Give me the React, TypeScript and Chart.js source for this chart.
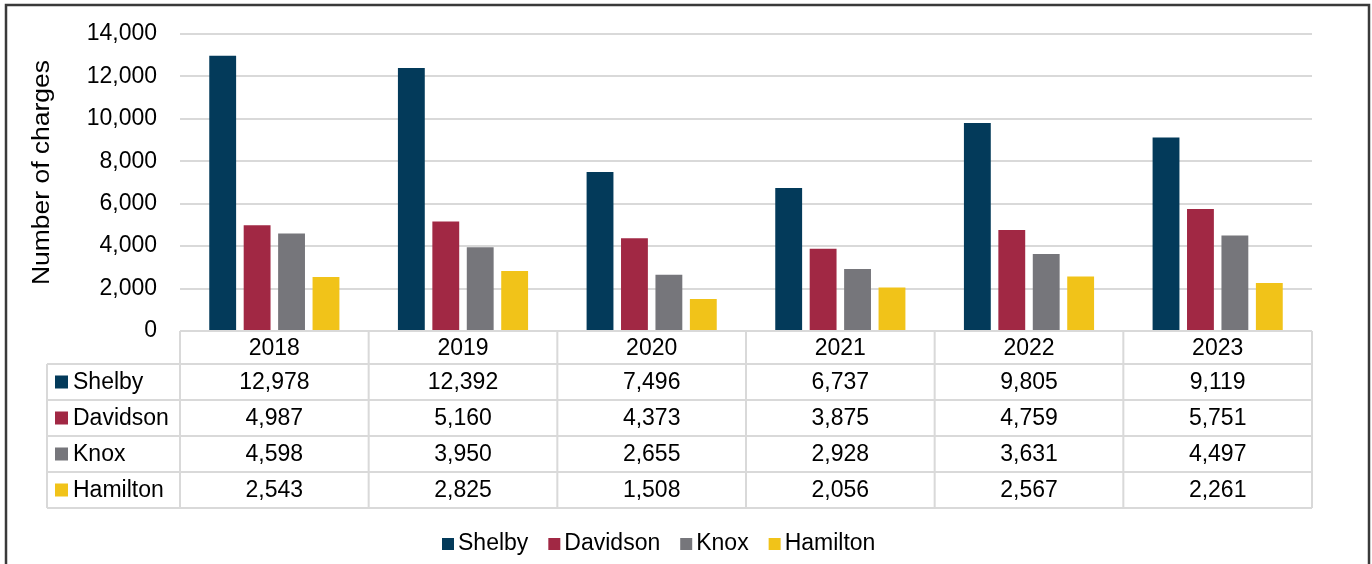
import React, { useEffect, useRef } from "react";
import { Chart, registerables } from "chart.js";

Chart.register(...registerables);

const years = ["2018", "2019", "2020", "2021", "2022", "2023"];
const seriesNames = ["Shelby", "Davidson", "Knox", "Hamilton"];
const shelby = [12978, 12392, 7496, 6737, 9805, 9119];
const davidson = [4987, 5160, 4373, 3875, 4759, 5751];
const knox = [4598, 3950, 2655, 2928, 3631, 4497];
const hamilton = [2543, 2825, 1508, 2056, 2567, 2261];
const seriesColors = ["#033A5A", "#A12844", "#76767B", "#F1C319"];
const yTicks = [0, 2000, 4000, 6000, 8000, 10000, 12000, 14000];
const yTitle = "Number of charges";

const FONT = '"Liberation Sans", Arial, sans-serif';
const fmt = (v: number) => v.toLocaleString("en-US");

const tablePlugin = {
  id: "tableAndLegend",
  afterDraw(chart: any) {
    const ctx = chart.ctx as CanvasRenderingContext2D;
    const area = chart.chartArea;
    const xs = chart.scales.x;
    const n = years.length;
    const colW = (area.right - area.left) / n;
    const headerTop = area.bottom;
    const headerH = 33;
    const rowH = 36;
    const labelLeft = 47;
    const rowsTop = headerTop + headerH;
    const tableBottom = rowsTop + rowH * seriesNames.length;
    const allSeries = [shelby, davidson, knox, hamilton];

    ctx.save();
    // frame
    ctx.strokeStyle = "#3a3a3a";
    ctx.lineWidth = 2.5;
    ctx.strokeRect(6, 5, 1363, 620);

    // table grid
    ctx.strokeStyle = "#d9d9d9";
    ctx.lineWidth = 2;
    ctx.beginPath();
    ctx.moveTo(area.left, headerTop);
    ctx.lineTo(area.right, headerTop);
    for (let r = 0; r <= seriesNames.length; r++) {
      const y = rowsTop + r * rowH;
      ctx.moveTo(labelLeft, y);
      ctx.lineTo(area.right, y);
    }
    ctx.moveTo(labelLeft, rowsTop);
    ctx.lineTo(labelLeft, tableBottom);
    for (let i = 0; i <= n; i++) {
      const x = area.left + i * colW;
      ctx.moveTo(x, headerTop);
      ctx.lineTo(x, tableBottom);
    }
    ctx.stroke();

    // table text
    ctx.fillStyle = "#000";
    ctx.font = `23px ${FONT}`;
    ctx.textBaseline = "middle";
    ctx.textAlign = "center";
    years.forEach((yr, i) => {
      const cx = xs.getPixelForValue(i);
      ctx.fillText(yr, cx, headerTop + headerH / 2 + 1);
      allSeries.forEach((s, r) => {
        ctx.fillText(fmt(s[i]), cx, rowsTop + r * rowH + rowH / 2 + 1);
      });
    });
    ctx.textAlign = "left";
    seriesNames.forEach((name, r) => {
      const cy = rowsTop + r * rowH + rowH / 2;
      ctx.fillStyle = seriesColors[r];
      ctx.fillRect(55, cy - 6.5, 13, 13);
      ctx.fillStyle = "#000";
      ctx.fillText(name, 73, cy + 1);
    });

    // legend
    let lx = 442;
    const ly = 544;
    seriesNames.forEach((name, r) => {
      ctx.fillStyle = seriesColors[r];
      ctx.fillRect(lx, ly - 6, 12, 12);
      ctx.fillStyle = "#000";
      ctx.fillText(name, lx + 16, ly);
      lx += 16 + ctx.measureText(name).width + 20;
    });

    // y axis title (stretched to match reference)
    ctx.translate(43, 172.5);
    ctx.rotate(-Math.PI / 2);
    ctx.textAlign = "center";
    const w = ctx.measureText(yTitle).width;
    ctx.scale(225 / w, 1);
    ctx.fillText(yTitle, 0, 0);
    ctx.restore();
  },
};

export default function App() {
  const ref = useRef<HTMLCanvasElement>(null);
  useEffect(() => {
    if (!ref.current) return;
    const chart = new Chart(ref.current, {
      type: "bar",
      data: {
        labels: years,
        datasets: [shelby, davidson, knox, hamilton].map((d, i) => ({
          label: seriesNames[i],
          data: d,
          backgroundColor: seriesColors[i],
          categoryPercentage: 0.73,
          barPercentage: 0.78,
        })),
      },
      options: {
        responsive: false,
        maintainAspectRatio: false,
        devicePixelRatio: 1,
        animation: false,
        layout: { padding: { left: 0, right: 60, top: 34, bottom: 233 } },
        plugins: { legend: { display: false }, tooltip: { enabled: false } },
        scales: {
          x: { display: false },
          y: {
            min: yTicks[0],
            max: yTicks[yTicks.length - 1],
            afterFit: (s: any) => {
              s.width = 180;
            },
            afterBuildTicks: (s: any) => {
              s.ticks = yTicks.map((v) => ({ value: v }));
            },
            border: { display: false },
            grid: { color: "#d9d9d9", lineWidth: 2, drawTicks: false },
            ticks: {
              padding: 23,
              color: "#000",
              font: { family: FONT, size: 23, lineHeight: 0.8 },
              callback: (v: any) => fmt(Number(v)),
            },
          },
        },
      },
      plugins: [tablePlugin],
    });
    return () => chart.destroy();
  }, []);
  return (
    <div style={{ position: "fixed", left: 0, top: 0, width: 1372, height: 564, background: "#fff" }}>
      <canvas ref={ref} width={1372} height={564} style={{ display: "block" }} />
    </div>
  );
}
